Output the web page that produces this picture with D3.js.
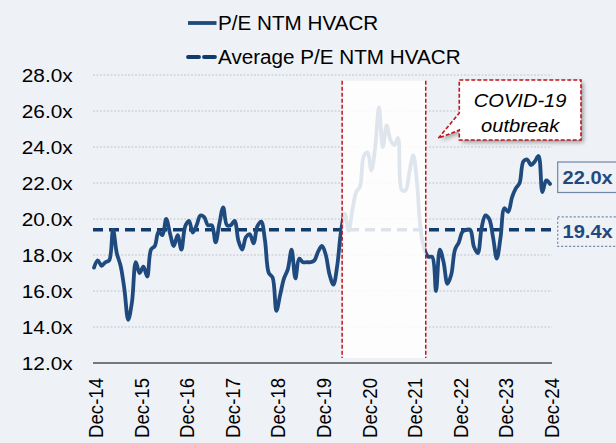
<!DOCTYPE html>
<html><head><meta charset="utf-8">
<script src="https://cdn.jsdelivr.net/npm/d3@7"></script>
<style>
html,body{margin:0;padding:0;background:#eef1f5;}
svg{display:block;font-family:"Liberation Sans",Arial,sans-serif;}
</style></head>
<body><svg id="chart" width="616" height="443"></svg>
<script>
// ---- DATA ----
const seriesName = "P/E NTM HVACR";
const avgName = "Average P/E NTM HVACR";
// monthly P/E NTM, Dec-14 .. Dec-24 (121 points)
const peValues = [
17.3,17.7,17.4,17.6,17.7,19.4,18.1,17.4,16.1,14.4,15.4,17.6,
17.0,17.35,16.8,18.3,18.5,19.3,19.1,20.0,19.2,18.5,19.1,18.3,
19.6,19.9,19.25,19.65,20.2,20.1,19.65,19.65,18.7,19.75,20.65,19.65,
19.65,19.9,18.8,18.3,19.0,19.15,18.65,19.6,19.85,18.8,17.0,16.75,
14.9,15.8,16.7,17.2,18.3,16.7,17.8,17.6,17.6,17.6,17.7,18.2,
18.5,18.0,16.9,16.35,17.4,19.3,20.3,19.35,20.5,21.5,21.8,23.5,
23.7,22.7,24.0,26.2,24.0,25.2,24.4,24.1,24.5,21.6,21.6,22.6,
23.55,22.0,19.3,18.3,17.9,17.9,16.0,18.3,17.6,16.4,16.9,18.3,
18.7,19.3,19.4,19.4,18.45,18.1,19.5,20.2,20.0,19.0,17.8,19.0,
20.6,20.4,21.2,21.7,22.0,23.2,23.3,23.0,23.2,23.5,21.5,22.15,
21.95];
const avgValue = 19.4;
const lastLabel = "22.0x";
const avgLabel = "19.4x";
const xTickLabels = ["Dec-14","Dec-15","Dec-16","Dec-17","Dec-18","Dec-19","Dec-20","Dec-21","Dec-22","Dec-23","Dec-24"];
const xTickIndex = [0,12,24,36,48,60,72,84,96,108,120];
const yTicks = [12,14,16,18,20,22,24,26,28];
const covidRange = [65.3, 87.3]; // category positions of the COVID window
const calloutLines = ["COVID-19","outbreak"];

// ---- CHART ----
const svg = d3.select("#chart");
const W = 616, H = 443;
const plot = {left:93, right:552, top:75, bottom:363};
const SX = 1.12; // horizontal text stretch

svg.append("rect").attr("width",W).attr("height",H).attr("fill","#eef1f5");

const defs = svg.append("defs");
const f = defs.append("filter").attr("id","shadow").attr("x","-20%").attr("y","-20%").attr("width","150%").attr("height","150%");
f.append("feDropShadow").attr("dx",2.5).attr("dy",2.5).attr("stdDeviation",2).attr("flood-color","#000").attr("flood-opacity",0.35);

const x = d3.scaleLinear().domain([0, peValues.length-1]).range([94, 550]);
const y = d3.scaleLinear().domain([12, 28]).range([plot.bottom, plot.top]);

function stext(g, tx, ty, str, opts={}){
  const t = g.append("text")
    .attr("transform", `translate(${tx},${ty}) scale(${opts.sx||SX},1)` + (opts.rot?` rotate(${opts.rot})`:""))
    .attr("font-size", opts.size||18.6)
    .attr("fill", opts.fill||"#000")
    .attr("text-anchor", opts.anchor||"start")
    .text(str);
  if(opts.weight) t.attr("font-weight",opts.weight);
  if(opts.style) t.attr("font-style",opts.style);
  if(opts.dy) t.attr("dy",opts.dy);
  return t;
}

// gridlines
const grid = svg.append("g");
grid.selectAll("line").data(yTicks.filter(d=>d>12)).join("line")
  .attr("x1",plot.left).attr("x2",plot.right)
  .attr("y1",d=>y(d)).attr("y2",d=>y(d))
  .attr("stroke","#c4c8cc").attr("stroke-width",1).attr("stroke-dasharray","2,1.5");

// y-axis labels
const yl = svg.append("g");
yTicks.forEach(v=>{
  stext(yl, 72.7, y(v), d3.format(".1f")(v)+"x", {anchor:"end", dy:"0.36em"});
});

// x axis line
svg.append("line").attr("x1",plot.left).attr("x2",plot.right)
  .attr("y1",plot.bottom).attr("y2",plot.bottom).attr("stroke","#000").attr("stroke-width",1.2);

// x labels
const xl = svg.append("g");
xTickIndex.forEach((idx,k)=>{
  stext(xl, x(idx)+1.5, 378, xTickLabels[k], {anchor:"end", rot:-90, dy:"0.36em"});
});

// average dashed line
svg.append("line").attr("x1",plot.left).attr("x2",plot.right)
  .attr("y1",y(avgValue)).attr("y2",y(avgValue))
  .attr("stroke","#123b6d").attr("stroke-width",3.6).attr("stroke-dasharray","10,6");

// main series line
const line = d3.line().x((d,i)=>x(i)).y(d=>y(d)).curve(d3.curveCatmullRom.alpha(0.5));
svg.append("path").datum(peValues).attr("d",line)
  .attr("fill","none").attr("stroke","#1f4a7e").attr("stroke-width",3.8)
  .attr("stroke-linejoin","round").attr("stroke-linecap","round");

// COVID shading overlay
const sx0 = x(covidRange[0]), sx1 = x(covidRange[1]);
svg.append("rect").attr("x",sx0).attr("y",80.7).attr("width",sx1-sx0).attr("height",358-80.7)
  .attr("fill","#ffffff").attr("opacity",0.86);
[sx0,sx1].forEach(px=>{
  svg.append("line").attr("x1",px).attr("x2",px).attr("y1",80.7).attr("y2",358)
    .attr("stroke","#c0141c").attr("stroke-width",1.5).attr("stroke-dasharray","4,2");
});

// callout
const cb = {l:459.3, t:80, r:581, b:140};
const tip = [438.3,138.3];
const cpath = `M${cb.l},${cb.t} L${cb.r},${cb.t} L${cb.r},${cb.b} L${cb.l},${cb.b} L${cb.l},130 L${tip[0]},${tip[1]} L${cb.l},113 Z`;
svg.append("path").attr("d",cpath).attr("fill","#fff").attr("filter","url(#shadow)");
svg.append("path").attr("d",cpath).attr("fill","#fff")
  .attr("stroke","#c0141c").attr("stroke-width",1.6).attr("stroke-dasharray","4,2");
const cg = svg.append("g");
stext(cg, (cb.l+cb.r)/2, 107, calloutLines[0], {anchor:"middle", style:"italic", sx:1.08});
stext(cg, (cb.l+cb.r)/2, 132, calloutLines[1], {anchor:"middle", style:"italic", sx:1.08});

// value labels
const vg = svg.append("g");
vg.append("rect").attr("x",557.7).attr("y",y(22.0)-21).attr("width",70).attr("height",30.5)
  .attr("fill","#eef1f5").attr("stroke","#6f86a8").attr("stroke-width",1.2);
stext(vg, 562.5, y(22.0)-5.5, lastLabel, {weight:"bold", fill:"#1f4a7e", dy:"0.36em", sx:1.08});
vg.append("rect").attr("x",557.7).attr("y",y(avgValue)-13).attr("width",70).attr("height",29.5)
  .attr("fill","#eef1f5").attr("stroke","#6f86a8").attr("stroke-width",1.2).attr("stroke-dasharray","2,2");
stext(vg, 562.5, y(avgValue)+1.5, avgLabel, {weight:"bold", fill:"#1f4a7e", dy:"0.36em", sx:1.08});

// legend
const lg = svg.append("g");
lg.append("line").attr("x1",188).attr("x2",216.5).attr("y1",23).attr("y2",23)
  .attr("stroke","#1f4a7e").attr("stroke-width",3.8);
stext(lg, 218, 30, seriesName, {size:19.5, sx:1.06});
lg.append("line").attr("x1",188).attr("x2",217).attr("y1",57).attr("y2",57)
  .attr("stroke","#123b6d").attr("stroke-width",3.8).attr("stroke-dasharray","11,5").attr("stroke-linecap","round");
stext(lg, 218, 63.5, avgName, {size:19.5, sx:1.06});
</script>
</body></html>
